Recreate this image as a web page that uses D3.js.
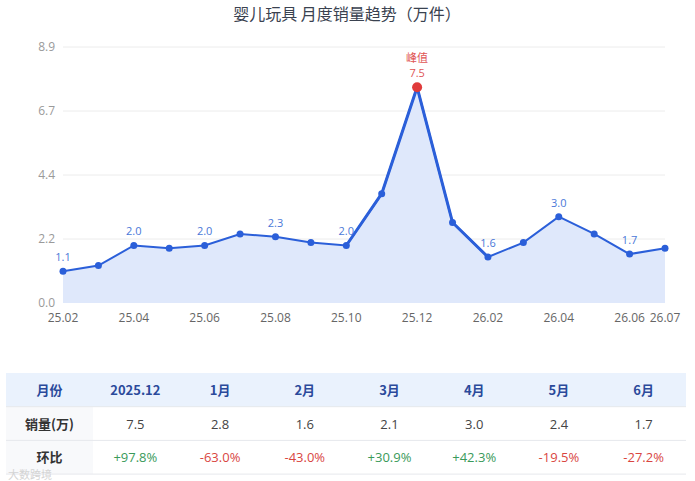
<!DOCTYPE html>
<html>
<head>
<meta charset="utf-8">
<script src="https://cdn.jsdelivr.net/npm/d3@7"></script>
<style>
  body { margin: 0; background: #fff; font-family: "Noto Sans CJK SC", "Noto Sans", sans-serif; }
  svg { display: block; }
</style>
</head>
<body>
<div id="chart"></div>
<script>
// maanden en verkoop (万件)
var months = ["25.02", "25.03", "25.04", "25.05", "25.06", "25.07", "25.08", "25.09", "25.10",
  "25.11", "25.12", "26.01", "26.02", "26.03", "26.04", "26.05", "26.06", "26.07"];
var sales = [1.1, 1.3, 2.0, 1.9, 2.0, 2.4, 2.3, 2.1, 2.0, 3.8, 7.5, 2.8, 1.6, 2.1, 3.0, 2.4, 1.7, 1.9];
var yTickLabels = ["0.0", "2.2", "4.4", "6.7", "8.9"];
var yMax = 8.9;

// tabel onderaan
var tableHeader = ["月份", "2025.12", "1月", "2月", "3月", "4月", "5月", "6月"];
var tableSales = ["销量(万)", "7.5", "2.8", "1.6", "2.1", "3.0", "2.4", "1.7"];
var tableMoM = ["环比", "+97.8%", "-63.0%", "-43.0%", "+30.9%", "+42.3%", "-19.5%", "-27.2%"];

var width = 695, height = 481;
var svg = d3.select("#chart").append("svg")
  .attr("width", width)
  .attr("height", height);

var blue = "#2b5fd9";
var numFont = "'Open Sans', 'Noto Sans CJK SC', sans-serif";

// titel
svg.append("text")
  .attr("x", 347).attr("y", 20)
  .attr("text-anchor", "middle")
  .attr("font-size", 16)
  .attr("fill", "#3a4250")
  .text("婴儿玩具 月度销量趋势（万件）");

var x = d3.scalePoint().domain(months).range([63, 665]);
var y = d3.scaleLinear().domain([0, yMax]).range([303, 47]);
var yTicks = yTickLabels.map((d, i) => yMax * i / 4);

// rasterlijnen
svg.append("g").selectAll("line")
  .data(yTicks.slice(1))
  .enter().append("line")
  .attr("x1", 63).attr("x2", 665)
  .attr("y1", d => y(d)).attr("y2", d => y(d))
  .attr("stroke", "#ececec");

// y-as labels
svg.append("g").selectAll("text")
  .data(yTicks)
  .enter().append("text")
  .attr("x", 55).attr("y", d => y(d) + 4)
  .attr("text-anchor", "end")
  .attr("font-size", 12)
  .attr("fill", "#9a9a9a")
  .attr("font-family", numFont)
  .text((d, i) => yTickLabels[i]);

// x-as labels (om de twee, plus de laatste)
var xTicks = months.filter((d, i) => i % 2 == 0 || i == months.length - 1);
svg.append("g").selectAll("text")
  .data(xTicks)
  .enter().append("text")
  .attr("x", d => x(d)).attr("y", 322)
  .attr("text-anchor", "middle")
  .attr("font-size", 12)
  .attr("fill", "#666")
  .attr("font-family", numFont)
  .text(d => d);

// vlak onder de lijn
var area = d3.area()
  .x((d, i) => x(months[i]))
  .y0(y(0))
  .y1(d => y(d));
svg.append("path")
  .datum(sales)
  .attr("d", area)
  .attr("fill", "#dfe8fb");

var line = d3.line()
  .x(i => x(months[i]))
  .y(i => y(sales[i]));

svg.append("path")
  .datum(d3.range(sales.length))
  .attr("d", line)
  .attr("fill", "none")
  .attr("stroke", blue)
  .attr("stroke-width", 2);

// dikker stuk rond de piek
svg.append("path")
  .datum(d3.range(8, 13))
  .attr("d", line)
  .attr("fill", "none")
  .attr("stroke", blue)
  .attr("stroke-width", 3)
  .attr("stroke-linejoin", "round");

var peak = sales.indexOf(d3.max(sales));

// punten (behalve de piek)
var dots = svg.append("g");
sales.forEach(function (d, i) {
  if (i == peak) return;
  dots.append("circle")
    .attr("cx", x(months[i]))
    .attr("cy", y(d))
    .attr("r", 3.5)
    .attr("fill", blue);
});

// piekpunt
svg.append("circle")
  .attr("cx", x(months[peak]))
  .attr("cy", y(sales[peak]))
  .attr("r", 5)
  .attr("fill", "#e03b3b");
svg.append("text")
  .attr("x", x(months[peak])).attr("y", y(sales[peak]) - 10)
  .attr("text-anchor", "middle")
  .attr("font-size", 11)
  .attr("fill", "#e05555")
  .attr("font-family", numFont)
  .text(sales[peak].toFixed(1));
svg.append("text")
  .attr("x", x(months[peak])).attr("y", y(sales[peak]) - 25)
  .attr("text-anchor", "middle")
  .attr("font-size", 11)
  .attr("fill", "#e05555")
  .text("峰值");

// waardelabels om de twee punten
sales.forEach(function (d, i) {
  if (i % 2 != 0 || i == peak) return;
  svg.append("text")
    .attr("x", x(months[i])).attr("y", y(d) - 10)
    .attr("text-anchor", "middle")
    .attr("font-size", 11)
    .attr("fill", "#4a78d8")
    .attr("font-family", numFont)
    .text(d.toFixed(1));
});

// tabel
var tableLeft = 6, tableRight = 686, firstCol = 87, rowH = 33.7, tableTop = 373;
var colW = (tableRight - tableLeft - firstCol) / (tableHeader.length - 1);
function colCenter(j) {
  return j == 0 ? tableLeft + firstCol / 2 : tableLeft + firstCol + colW * (j - 0.5);
}
var table = svg.append("g");
table.append("rect")
  .attr("x", tableLeft).attr("y", tableTop)
  .attr("width", tableRight - tableLeft).attr("height", rowH)
  .attr("fill", "#eaf2fd");
table.append("rect")
  .attr("x", tableLeft).attr("y", tableTop + rowH)
  .attr("width", firstCol).attr("height", rowH * 2)
  .attr("fill", "#f8f9fb");
[1, 2, 3].forEach(function (r) {
  table.append("line")
    .attr("x1", tableLeft).attr("x2", tableRight)
    .attr("y1", tableTop + rowH * r).attr("y2", tableTop + rowH * r)
    .attr("stroke", "#e6e8ec");
});

var rows = [tableHeader, tableSales, tableMoM];
rows.forEach(function (row, r) {
  row.forEach(function (cell, j) {
    var color = "#444";
    var weight = "normal";
    if (r == 0) { color = "#2b4a9b"; weight = "bold"; }
    else if (j == 0) { color = "#333"; weight = "bold"; }
    else if (r == 2) { color = cell[0] == "+" ? "#3a9a5a" : "#d9463f"; }
    table.append("text")
      .attr("x", colCenter(j))
      .attr("y", tableTop + rowH * r + rowH / 2 + 5)
      .attr("text-anchor", "middle")
      .attr("font-size", 13)
      .attr("font-weight", weight)
      .attr("font-family", j == 0 || r == 0 ? null : numFont)
      .attr("fill", color)
      .text(cell);
  });
});

// watermerk
svg.append("text")
  .attr("x", 8).attr("y", 479)
  .attr("font-size", 11)
  .attr("fill", "#d4d4d4")
  .text("大数跨境");
</script>
</body>
</html>
